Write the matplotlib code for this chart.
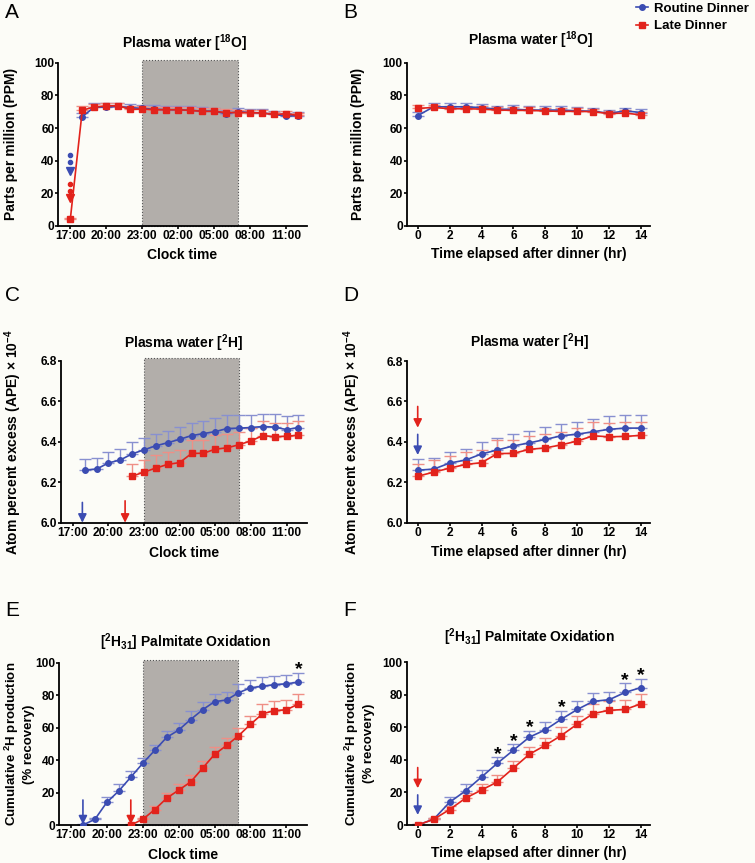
import numpy as np
import matplotlib
matplotlib.use("Agg")
import matplotlib.pyplot as plt
from matplotlib.patches import Rectangle
from matplotlib.lines import Line2D

plt.rcParams['font.family'] = ['Liberation Sans', 'DejaVu Sans']
plt.rcParams['font.weight'] = 'bold'
plt.rcParams['axes.labelweight'] = 'bold'
plt.rcParams['mathtext.fontset'] = 'custom'
plt.rcParams['mathtext.rm'] = 'Liberation Sans'
plt.rcParams['mathtext.bf'] = 'Liberation Sans:bold'
plt.rcParams['mathtext.it'] = 'Liberation Sans:italic'

BLUE = '#3b4cb2'
RED = '#e2231c'
BLUE_ERR = '#8890d0'
RED_ERR = '#ef8f86'
SHADE = '#b2aeaa'
BG = '#fcfcf7'

# clock time in hours from midnight of day 1 (24 = 00:00 next day)
clock_ticks = [17, 20, 23, 26, 29, 32, 35]
clock_labels = ['17:00', '20:00', '23:00', '02:00', '05:00', '08:00', '11:00']
sleep_window = (23, 31)
hours_routine = list(range(18, 37))
hours_late = list(range(22, 37))
hours_o18_late = list(range(17, 37))
elapsed = list(range(0, 15))
elapsed_ticks = [0, 2, 4, 6, 8, 10, 12, 14]

# A / B : plasma water 18O (ppm)
o18_clock_routine = [67.0, 72.8, 72.8, 73.2, 72.5, 72.0, 71.5, 71.2, 71.2, 70.8,
                     70.4, 70.3, 68.7, 70.0, 69.5, 69.3, 68.3, 67.3, 67.6]
o18_clock_routine_err = [2.0, 2.5, 2.3, 2.2, 2.4, 2.3, 2.4, 2.2, 2.3, 2.4,
                         2.2, 2.1, 2.2, 2.0, 2.1, 2.2, 2.0, 2.1, 2.0]
o18_clock_late = [4.1, 71.0, 72.8, 73.6, 73.6, 71.4, 71.6, 71.2, 71.2, 71.2,
                  70.8, 70.2, 70.2, 69.5, 69.5, 69.5, 69.1, 68.3, 68.7, 67.7]
o18_clock_late_err = [0.8, 2.5, 2.0, 1.8, 1.8, 1.8, 2.0, 1.9, 1.8, 1.8,
                      1.9, 1.8, 1.8, 1.9, 1.8, 1.8, 1.9, 1.8, 2.0, 1.8]
o18_elapsed_routine = [67.6, 73.0, 73.0, 73.0, 72.5, 71.5, 71.5, 71.0, 71.0, 71.0,
                       70.5, 70.3, 69.0, 70.5, 69.5]
o18_elapsed_routine_err = [2.0, 2.6, 2.6, 2.4, 2.3, 2.2, 2.3, 2.2, 2.4, 2.4,
                           2.2, 2.1, 2.2, 2.0, 2.1]
o18_elapsed_late = [72.0, 72.6, 71.8, 71.8, 71.6, 71.0, 70.8, 70.8, 70.4, 70.2,
                    70.2, 70.0, 68.8, 69.2, 68.0]
o18_elapsed_late_err = [2.2, 1.8, 1.9, 1.8, 1.8, 1.9, 1.8, 1.8, 1.9, 1.8,
                        1.8, 1.9, 1.8, 1.8, 1.9]
o18_arrow_routine = [43.5, 39.0, 33.5]
o18_arrow_late = [25.5, 21.5, 17.0]

# C / D : plasma water 2H (APE x 10^-4)
h2_clock_routine = [6.260, 6.265, 6.295, 6.310, 6.340, 6.360, 6.380, 6.395, 6.412, 6.430,
                    6.440, 6.450, 6.465, 6.467, 6.470, 6.475, 6.472, 6.460, 6.470]
h2_clock_routine_err = [0.055, 0.056, 0.055, 0.056, 0.057, 0.057, 0.060, 0.060, 0.062, 0.060,
                        0.060, 0.065, 0.065, 0.065, 0.063, 0.063, 0.066, 0.065, 0.063]
h2_clock_late = [6.230, 6.250, 6.270, 6.288, 6.297, 6.342, 6.343, 6.363, 6.370, 6.385,
                 6.404, 6.430, 6.425, 6.427, 6.432]
h2_clock_late_err = [0.060, 0.060, 0.062, 0.062, 0.063, 0.066, 0.065, 0.068, 0.067, 0.065,
                     0.066, 0.070, 0.066, 0.064, 0.068]
h2_elapsed_routine = [6.260, 6.265, 6.295, 6.310, 6.340, 6.360, 6.380, 6.395, 6.412, 6.430,
                      6.438, 6.450, 6.462, 6.468, 6.468]
h2_elapsed_routine_err = [0.055, 0.056, 0.055, 0.056, 0.057, 0.057, 0.060, 0.060, 0.062, 0.060,
                          0.062, 0.063, 0.066, 0.065, 0.065]
h2_elapsed_late = [6.230, 6.250, 6.270, 6.288, 6.297, 6.342, 6.343, 6.363, 6.370, 6.385,
                   6.404, 6.430, 6.425, 6.427, 6.432]
h2_elapsed_late_err = [0.060, 0.060, 0.062, 0.062, 0.063, 0.066, 0.065, 0.068, 0.067, 0.065,
                       0.066, 0.070, 0.066, 0.070, 0.068]
h2_clock_arrows = [(17.8, 6.1, 6.0, BLUE), (21.4, 6.108, 6.0, RED)]
h2_elapsed_arrows = [(0, 6.575, 6.47, RED), (0, 6.437, 6.335, BLUE)]

# E / F : cumulative 2H production (% recovery)
palm_clock_routine = [0.0, 3.5, 14.0, 21.0, 29.5, 38.0, 46.0, 54.0, 58.5, 65.0,
                      71.0, 76.0, 77.0, 81.5, 84.5, 85.5, 86.5, 87.0, 88.0]
palm_clock_routine_err = [0.5, 1.0, 3.5, 4.0, 4.0, 3.5, 3.5, 4.0, 4.5, 5.0,
                          5.0, 5.0, 5.0, 5.5, 5.0, 5.5, 5.5, 5.5, 5.5]
palm_clock_late = [0.0, 3.5, 9.5, 16.5, 21.5, 26.5, 35.0, 43.5, 49.0, 55.0,
                   62.0, 68.5, 70.5, 71.0, 74.5]
palm_clock_late_err = [0.5, 1.0, 2.0, 3.0, 3.5, 4.0, 4.5, 4.5, 4.5, 5.0,
                       5.0, 6.0, 6.0, 6.0, 6.0]
palm_elapsed_routine = [0.0, 3.5, 14.0, 21.0, 29.5, 38.0, 46.0, 54.0, 58.5, 65.0,
                        71.0, 76.0, 77.0, 81.5, 84.5]
palm_elapsed_routine_err = [0.5, 1.0, 3.5, 4.0, 4.0, 3.5, 3.5, 4.0, 4.5, 5.0,
                            5.0, 5.0, 5.0, 5.5, 5.5]
palm_elapsed_late = [0.0, 3.5, 9.5, 16.5, 21.5, 26.5, 35.0, 43.5, 49.0, 55.0,
                     62.0, 68.5, 70.5, 71.0, 74.5]
palm_elapsed_late_err = [0.5, 1.0, 2.0, 3.0, 3.5, 4.0, 4.5, 4.5, 4.5, 5.0,
                         5.0, 6.0, 6.0, 6.0, 6.0]
palm_clock_stars = [36]
palm_elapsed_stars = [5, 6, 7, 9, 13, 14]
palm_clock_arrows = [(18, 15.4, 0.4, BLUE), (22, 15.4, 0.4, RED)]
palm_elapsed_arrows = [(0, 35.3, 22.6, RED), (0, 18.5, 6.2, BLUE)]

W, H = 755, 863
fig = plt.figure(figsize=(W / 100, H / 100), dpi=100)
fig.patch.set_facecolor(BG)


def make_axes(left, right, top, bottom):
    ax = fig.add_axes([left / W, 1 - bottom / H, (right - left) / W, (bottom - top) / H])
    ax.set_facecolor('none')
    for s in ('top', 'right'):
        ax.spines[s].set_visible(False)
    for s in ('left', 'bottom'):
        ax.spines[s].set_linewidth(1.3)
    ax.tick_params(direction='out', length=2, width=1.2, labelsize=8.6, pad=0.8)
    return ax


def draw_series(ax, x, y, err, color, err_color, marker, ms):
    ax.errorbar(x, y, yerr=[np.zeros(len(err)), err], fmt='none', ecolor=err_color,
                elinewidth=1.0, capsize=4, capthick=1.0, zorder=2)
    ax.plot(x, y, color=color, marker=marker, ms=ms, lw=1.2, zorder=3)


def shade_night(ax, ylo, yhi):
    rect = Rectangle((sleep_window[0], ylo), sleep_window[1] - sleep_window[0],
                     (yhi - ylo) * 1.015, facecolor=SHADE, edgecolor='#555555',
                     linestyle=':', lw=0.8, clip_on=False, zorder=1)
    ax.add_patch(rect)


def draw_arrows(ax, arrows):
    for x, y_tail, y_tip, c in arrows:
        ax.annotate('', xy=(x, y_tip), xytext=(x, y_tail),
                    arrowprops=dict(arrowstyle='-|>,head_length=0.5,head_width=0.25',
                                    color=c, lw=1.2, shrinkA=0, shrinkB=0),
                    annotation_clip=False, zorder=4)


def clock_axis(ax):
    ax.set_xlim(16, 36.7)
    ax.set_xticks(clock_ticks)
    ax.set_xticklabels(clock_labels)
    ax.set_xlabel('Clock time', fontsize=10)


def elapsed_axis(ax):
    ax.set_xlim(-0.69, 14.56)
    ax.set_xticks(elapsed_ticks)
    ax.set_xlabel('Time elapsed after dinner (hr)', fontsize=10)


def labels(ax, title, title_y, ylabel, ylab_x, xlab_y, title_x=0.5,
           linespacing=1.2, ysize=10):
    ax.text(title_x, title_y, title, transform=ax.transAxes, ha='center', va='center',
            fontsize=10)
    ax.set_ylabel(ylabel, fontsize=ysize, va='center', linespacing=linespacing)
    ax.yaxis.set_label_coords(ylab_x, 0.5)
    ax.xaxis.set_label_coords(0.5, xlab_y)
    ax.xaxis.label.set_va('center')


t_o18 = r'Plasma water [$^{\mathbf{18}}$O]'
t_h2 = r'Plasma water [$^{\mathbf{2}}$H]'
t_palm = r'[$^{\mathbf{2}}$H$_{\mathbf{31}}$] Palmitate Oxidation'
y_ppm = 'Parts per million (PPM)'
y_ape = r'Atom percent excess (APE) $\times\ 10^{-4}$'
y_cum = 'Cumulative $^{\\mathbf{2}}$H production\n(% recovery)'

# A
ax = make_axes(58.3, 306.7, 62.7, 226)
shade_night(ax, 0, 100)
draw_series(ax, hours_routine, o18_clock_routine, o18_clock_routine_err, BLUE, BLUE_ERR, 'o', 4)
draw_series(ax, hours_o18_late, o18_clock_late, o18_clock_late_err, RED, RED_ERR, 's', 4.5)
ax.plot([17, 17], o18_arrow_routine[:2], ls='none', marker='o', ms=3, color=BLUE, zorder=4)
ax.plot([17], o18_arrow_routine[2:], ls='none', marker='v', ms=6, color=BLUE, zorder=4)
ax.plot([17, 17], o18_arrow_late[:2], ls='none', marker='o', ms=3, color=RED, zorder=4)
ax.plot([17], o18_arrow_late[2:], ls='none', marker='v', ms=6, color=RED, zorder=4)
ax.set_ylim(0, 100)
ax.set_yticks([0, 20, 40, 60, 80, 100])
clock_axis(ax)
labels(ax, t_o18, 1.121, y_ppm, -0.19, -0.178, title_x=0.51)

# B
ax = make_axes(406.7, 650, 62.7, 226)
draw_series(ax, elapsed, o18_elapsed_routine, o18_elapsed_routine_err, BLUE, BLUE_ERR, 'o', 4)
draw_series(ax, elapsed, o18_elapsed_late, o18_elapsed_late_err, RED, RED_ERR, 's', 4.5)
ax.set_ylim(0, 100)
ax.set_yticks([0, 20, 40, 60, 80, 100])
elapsed_axis(ax)
labels(ax, t_o18, 1.139, y_ppm, -0.202, -0.172, title_x=0.507)

# C
ax = make_axes(61, 306.7, 360.7, 522.7)
shade_night(ax, 6.0, 6.8)
draw_series(ax, hours_routine, h2_clock_routine, h2_clock_routine_err, BLUE, BLUE_ERR, 'o', 4)
draw_series(ax, hours_late, h2_clock_late, h2_clock_late_err, RED, RED_ERR, 's', 4.5)
draw_arrows(ax, h2_clock_arrows)
ax.set_ylim(6.0, 6.8)
ax.set_yticks([6.0, 6.2, 6.4, 6.6, 6.8])
ax.set_yticklabels(['6.0', '6.2', '6.4', '6.6', '6.8'])
clock_axis(ax)
labels(ax, t_h2, 1.109, y_ape, -0.195, -0.187, title_x=0.5)

# D
ax = make_axes(406.7, 650, 361, 522.7)
draw_series(ax, elapsed, h2_elapsed_routine, h2_elapsed_routine_err, BLUE, BLUE_ERR, 'o', 4)
draw_series(ax, elapsed, h2_elapsed_late, h2_elapsed_late_err, RED, RED_ERR, 's', 4.5)
draw_arrows(ax, h2_elapsed_arrows)
ax.set_ylim(6.0, 6.8)
ax.set_yticks([6.0, 6.2, 6.4, 6.6, 6.8])
ax.set_yticklabels(['6.0', '6.2', '6.4', '6.6', '6.8'])
elapsed_axis(ax)
labels(ax, t_h2, 1.118, y_ape, -0.225, -0.18, title_x=0.505)

# E
ax = make_axes(59, 306.7, 662.7, 825)
shade_night(ax, 0, 100)
draw_series(ax, hours_routine, palm_clock_routine, palm_clock_routine_err, BLUE, BLUE_ERR, 'o', 4)
draw_series(ax, hours_late, palm_clock_late, palm_clock_late_err, RED, RED_ERR, 's', 4.5)
draw_arrows(ax, palm_clock_arrows)
for h in palm_clock_stars:
    i = hours_routine.index(h)
    ax.text(h, palm_clock_routine[i] + palm_clock_routine_err[i] + 2, '*', ha='center',
            va='center', fontsize=14, zorder=5)
ax.set_ylim(0, 100)
ax.set_yticks([0, 20, 40, 60, 80, 100])
clock_axis(ax)
labels(ax, t_palm, 1.128, y_cum, -0.162, -0.185, title_x=0.51, linespacing=1.2, ysize=9.5)

# F
ax = make_axes(406.7, 650, 662.3, 825)
draw_series(ax, elapsed, palm_elapsed_routine, palm_elapsed_routine_err, BLUE, BLUE_ERR, 'o', 4)
draw_series(ax, elapsed, palm_elapsed_late, palm_elapsed_late_err, RED, RED_ERR, 's', 4.5)
draw_arrows(ax, palm_elapsed_arrows)
for h in palm_elapsed_stars:
    i = elapsed.index(h)
    ax.text(h, palm_elapsed_routine[i] + palm_elapsed_routine_err[i] + 2, '*', ha='center',
            va='center', fontsize=14, zorder=5)
ax.set_ylim(0, 100)
ax.set_yticks([0, 20, 40, 60, 80, 100])
elapsed_axis(ax)
labels(ax, t_palm, 1.154, y_cum, -0.195, -0.172, title_x=0.505, linespacing=1.2, ysize=9.5)

# panel letters
for letter, x, y in [('A', 5, 12), ('B', 343, 12), ('C', 5, 295),
                     ('D', 343, 295), ('E', 5, 610), ('F', 343, 610)]:
    fig.text(x / W, 1 - y / H, letter, fontsize=15, fontweight='normal',
             ha='left', va='center')

handles = [Line2D([], [], color=BLUE, marker='o', ms=4, lw=1.2, label='Routine Dinner'),
           Line2D([], [], color=RED, marker='s', ms=4.5, lw=1.2, label='Late Dinner')]
leg = fig.legend(handles=handles, loc='upper left', bbox_to_anchor=(636 / W, 0.997),
                 frameon=False, fontsize=9.5, handlelength=0.9, handletextpad=0.5,
                 labelspacing=0.4, borderpad=0.0, borderaxespad=0.0, numpoints=1)
for t in leg.get_texts():
    t.set_fontweight('bold')

fig.savefig('out.png', dpi=100, facecolor=BG)
